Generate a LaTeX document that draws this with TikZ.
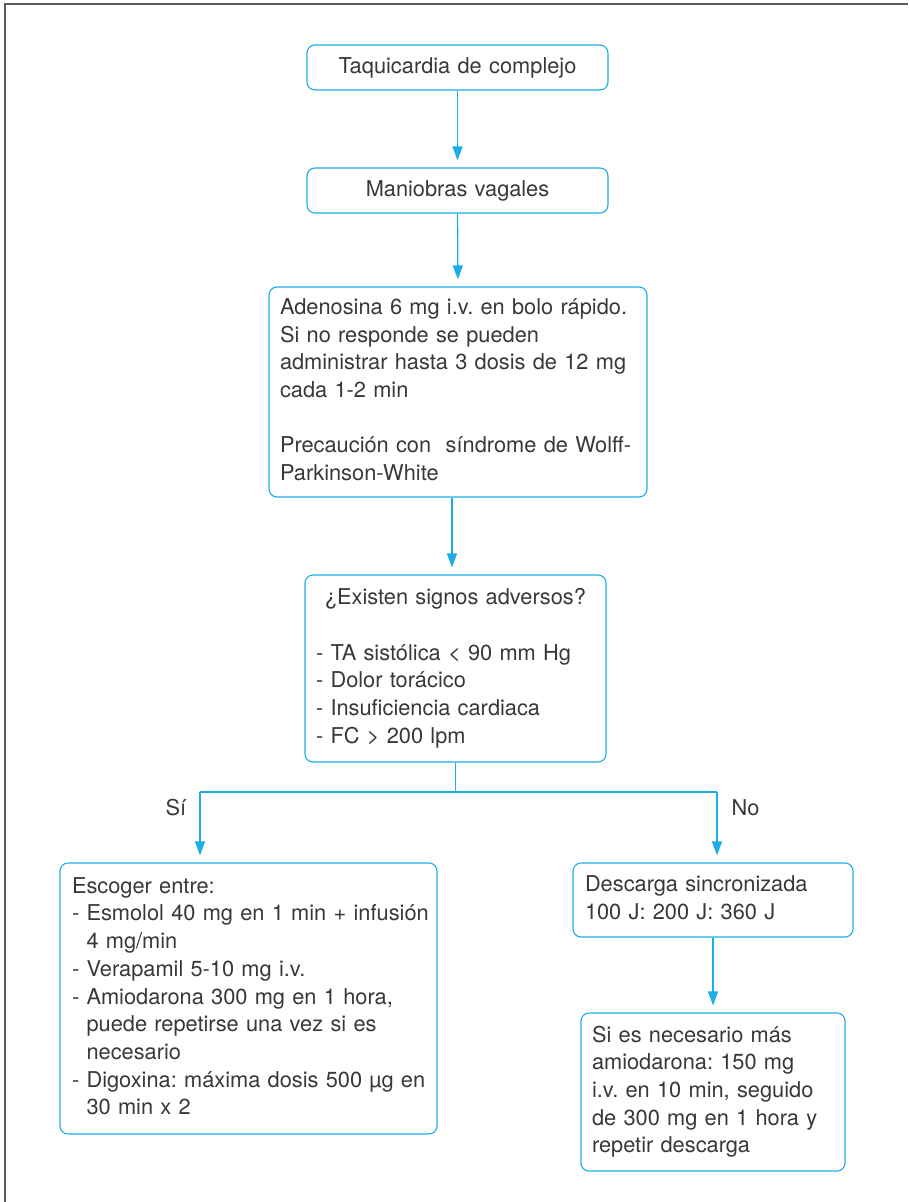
\documentclass[tikz,border=0pt]{standalone}
\usepackage{fontspec}
\setmainfont{TeX Gyre Heros}
\usetikzlibrary{arrows.meta,calc}
\definecolor{cy}{HTML}{1CADE4}
\definecolor{ink}{HTML}{383838}
\definecolor{framegray}{HTML}{5A5A5A}
\frenchspacing
% indent for the continuation lines of a dashed list item
\newcommand\contind{\hphantom{-\ }}
% a block of lines that are never rewrapped
\newcommand\boxlines[1]{\begin{tabular}{@{}l@{}}#1\end{tabular}}
\begin{document}
\begin{tikzpicture}[x=1pt,y=-1pt,
  txt/.style={text=ink, font=\fontsize{21.8pt}{27.7pt}\selectfont},
  box/.style={txt, draw=cy, line width=1.1pt, rounded corners=8pt,
    inner xsep=11pt, inner ysep=0pt},
  cbox/.style={box, align=center},
  lbox/.style={box, align=left},
  arr/.style={draw=cy, line width=1.3pt,
    -{Triangle[length=14pt,width=10pt]}, shorten >=7pt},
  link/.style={draw=cy, line width=1.3pt},
  frameline/.style={draw=framegray, line width=1.8pt}
]
\useasboundingbox (0,0) rectangle (908,1202);
\draw[frameline] (5,1202) -- (5,4) -- (908,4);

% main column
\node[cbox, minimum width=301pt, minimum height=45pt, text width=279pt]
  (b1) at (457.5,67.5) {Taquicardia de complejo};
\node[cbox, minimum width=301pt, minimum height=45pt, text width=279pt]
  (b2) at (457.5,190.5) {Maniobras vagales};
\node[lbox, minimum width=378pt, minimum height=210pt, text width=356pt]
  (b3) at (458,392) {\boxlines{Adenosina 6 mg i.v. en bolo rápido.\\
  Si no responde se pueden\\
  administrar hasta 3 dosis de 12 mg\\
  cada 1-2 min\\[27.7pt]
  Precaución con~ síndrome de Wolff-\\
  Parkinson-White}};
\node[lbox, minimum width=301pt, minimum height=187pt, text width=279pt]
  (b4) at (455.5,668.5) {\boxlines{\makebox[279pt][c]{¿Existen signos adversos?}\\[27.7pt]
  - TA sistólica < 90 mm Hg\\
  - Dolor torácico\\
  - Insuficiencia cardiaca\\
  - FC > 200 lpm}};

% branches
\node[lbox, inner xsep=12pt, minimum width=377pt, minimum height=271pt, text width=353pt]
  (esc) at (248.5,998.5) {\boxlines{Escoger entre:\\
  - Esmolol 40 mg en 1 min + infusión\\
  \contind 4 mg/min\\
  - Verapamil 5-10 mg i.v.\\
  - Amiodarona 300 mg en 1 hora,\\
  \contind puede repetirse una vez si es\\
  \contind necesario\\
  - Digoxina: máxima dosis 500 µg en\\
  \contind 30 min x 2}};
\node[lbox, inner xsep=12pt, minimum width=280pt, minimum height=74pt, text width=256pt]
  (desc) at (713,900) {\boxlines{Descarga sincronizada\\
  100 J: 200 J: 360 J}};
\node[lbox, minimum width=264pt, minimum height=158pt, text width=242pt]
  (more) at (713,1092) {\boxlines{Si es necesario más\\
  amiodarona: 150 mg\\
  i.v. en 10 min, seguido\\
  de 300 mg en 1 hora y\\
  repetir descarga}};

% split points of the decision
\coordinate (yes) at (200,792);
\coordinate (no) at (717,792);
\node[txt] (yeslbl) at (176,808) {Sí};
\node[txt] (nolbl) at (745.5,808) {No};

% connectors
\draw[arr] (b1.south) -- (b2.north);
\draw[arr] (b2.south) -- (b3.north);
\draw[arr] ([xshift=-6pt]b3.south) -- ([xshift=-6pt]b3.south |- b4.north);
\draw[link] (b4.south) |- (yes);
\draw[link] (b4.south) |- (no);
\draw[arr] (yes) -- (yes |- esc.north);
\draw[arr] (no) -- (no |- desc.north);
\draw[arr] (desc.south) -- (more.north);
\end{tikzpicture}
\end{document}
